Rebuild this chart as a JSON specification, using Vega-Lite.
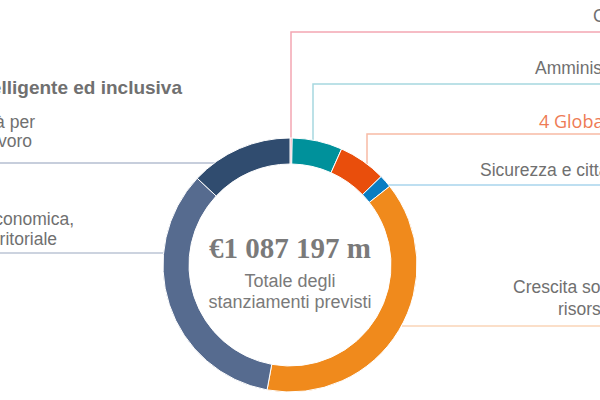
{
  "$schema": "https://vega.github.io/schema/vega-lite/v6.json",
  "width": 600,
  "height": 400,
  "autosize": {"type": "none"},
  "padding": 0,
  "background": "#ffffff",
  "config": {"view": {"stroke": null}},
  "datasets": {
    "stanziamenti": [
      {"voce": "Compensazioni", "importo": 3000, "n": 1},
      {"voce": "Amministrazione", "importo": 69584, "n": 2},
      {"voce": "Global Europe", "importo": 66262, "n": 3},
      {"voce": "Sicurezza e cittadinanza", "importo": 17725, "n": 4},
      {"voce": "Crescita sostenibile: risorse naturali", "importo": 420034, "n": 5},
      {"voce": "Coesione economica, sociale e territoriale", "importo": 371433, "n": 6},
      {"voce": "Competitività per la crescita e il lavoro", "importo": 142130, "n": 7}
    ],
    "linee": [
      {"id": "comp", "k": 1, "x": 291, "y": 141},
      {"id": "comp", "k": 2, "x": 291, "y": 32},
      {"id": "comp", "k": 3, "x": 600, "y": 32},
      {"id": "amm", "k": 1, "x": 313, "y": 142},
      {"id": "amm", "k": 2, "x": 313, "y": 84},
      {"id": "amm", "k": 3, "x": 600, "y": 84},
      {"id": "glob", "k": 1, "x": 367, "y": 166},
      {"id": "glob", "k": 2, "x": 367, "y": 134},
      {"id": "glob", "k": 3, "x": 600, "y": 134},
      {"id": "sic", "k": 1, "x": 386, "y": 185},
      {"id": "sic", "k": 2, "x": 600, "y": 185},
      {"id": "cres", "k": 1, "x": 402, "y": 326},
      {"id": "cres", "k": 2, "x": 600, "y": 326},
      {"id": "compet", "k": 1, "x": 0, "y": 163},
      {"id": "compet", "k": 2, "x": 216, "y": 163},
      {"id": "coes", "k": 1, "x": 0, "y": 253},
      {"id": "coes", "k": 2, "x": 166, "y": 253}
    ],
    "etichette_dx": [
      {"t": "Compensazioni", "x": 593, "y": 22},
      {"t": "Amministrazione", "x": 535, "y": 74},
      {"t": "Sicurezza e cittadinanza", "x": 480, "y": 176},
      {"t": "Crescita sostenibile:", "x": 513, "y": 293},
      {"t": "risorse naturali", "x": 558, "y": 315}
    ],
    "etichette_sx": [
      {"t": "1a Competitività per", "x": 35, "y": 128},
      {"t": "la crescita e il lavoro", "x": 32, "y": 147},
      {"t": "1b Coesione economica,", "x": 74, "y": 225},
      {"t": "sociale e territoriale", "x": 57, "y": 245}
    ],
    "titolo": [
      {"t": "1 Crescita intelligente ed inclusiva", "x": 182, "y": 94}
    ],
    "evidenza": [
      {"t": "4 Global Europe", "x": 539, "y": 128}
    ],
    "totale": [
      {"t": "€1 087 197 m", "x": 290, "y": 258}
    ],
    "sottotitolo": [
      {"t": "Totale degli", "x": 290, "y": 287},
      {"t": "stanziamenti previsti", "x": 290, "y": 308}
    ]
  },
  "layer": [
    {
      "data": {"name": "linee"},
      "mark": {"type": "line", "strokeWidth": 1.5, "clip": true},
      "encoding": {
        "x": {"field": "x", "type": "quantitative", "scale": {"domain": [0, 600]}, "axis": null},
        "y": {"field": "y", "type": "quantitative", "scale": {"domain": [0, 400], "reverse": true}, "axis": null},
        "detail": {"field": "id"},
        "order": {"field": "k"},
        "stroke": {
          "field": "id",
          "type": "nominal",
          "scale": {
            "domain": ["comp", "amm", "glob", "sic", "cres", "compet", "coes"],
            "range": ["#F3A6B3", "#A6D8DF", "#F8BBA5", "#A8D4EC", "#FAD5B7", "#B4BED0", "#BBC4D5"]
          },
          "legend": null
        }
      }
    },
    {
      "data": {"name": "stanziamenti"},
      "mark": {"type": "arc", "innerRadius": 101, "outerRadius": 127, "stroke": "#ffffff", "strokeWidth": 1},
      "encoding": {
        "x": {"datum": 290, "type": "quantitative", "scale": {"domain": [0, 600]}, "axis": null},
        "y": {"datum": 265, "type": "quantitative", "scale": {"domain": [0, 400], "reverse": true}, "axis": null},
        "theta": {"field": "importo", "type": "quantitative", "stack": true},
        "order": {"field": "n", "type": "quantitative"},
        "color": {
          "field": "voce",
          "type": "nominal",
          "scale": {
            "domain": ["Compensazioni", "Amministrazione", "Global Europe", "Sicurezza e cittadinanza", "Crescita sostenibile: risorse naturali", "Coesione economica, sociale e territoriale", "Competitività per la crescita e il lavoro"],
            "range": ["#E57F92", "#00919B", "#E94E0C", "#0A7DC2", "#F08A1C", "#566B8F", "#304C6F"]
          },
          "legend": null
        }
      }
    },
    {
      "data": {"name": "etichette_dx"},
      "mark": {"type": "text", "align": "left", "baseline": "alphabetic", "font": "Liberation Sans", "fontSize": 17.5, "color": "#707070", "clip": true},
      "encoding": {
        "x": {"field": "x", "type": "quantitative", "scale": {"domain": [0, 600]}, "axis": null},
        "y": {"field": "y", "type": "quantitative", "scale": {"domain": [0, 400], "reverse": true}, "axis": null},
        "text": {"field": "t"}
      }
    },
    {
      "data": {"name": "etichette_sx"},
      "mark": {"type": "text", "align": "right", "baseline": "alphabetic", "font": "Liberation Sans", "fontSize": 17.5, "color": "#707070", "clip": true},
      "encoding": {
        "x": {"field": "x", "type": "quantitative", "scale": {"domain": [0, 600]}, "axis": null},
        "y": {"field": "y", "type": "quantitative", "scale": {"domain": [0, 400], "reverse": true}, "axis": null},
        "text": {"field": "t"}
      }
    },
    {
      "data": {"name": "titolo"},
      "mark": {"type": "text", "align": "right", "baseline": "alphabetic", "font": "Liberation Sans", "fontSize": 19, "fontWeight": "bold", "color": "#707070", "clip": true},
      "encoding": {
        "x": {"field": "x", "type": "quantitative", "scale": {"domain": [0, 600]}, "axis": null},
        "y": {"field": "y", "type": "quantitative", "scale": {"domain": [0, 400], "reverse": true}, "axis": null},
        "text": {"field": "t"}
      }
    },
    {
      "data": {"name": "evidenza"},
      "mark": {"type": "text", "align": "left", "baseline": "alphabetic", "font": "Open Sans", "fontSize": 18, "color": "#EE7B55", "clip": true},
      "encoding": {
        "x": {"field": "x", "type": "quantitative", "scale": {"domain": [0, 600]}, "axis": null},
        "y": {"field": "y", "type": "quantitative", "scale": {"domain": [0, 400], "reverse": true}, "axis": null},
        "text": {"field": "t"}
      }
    },
    {
      "data": {"name": "totale"},
      "mark": {"type": "text", "align": "center", "baseline": "alphabetic", "font": "Liberation Serif", "fontSize": 29, "fontWeight": "bold", "color": "#7A7A7A"},
      "encoding": {
        "x": {"field": "x", "type": "quantitative", "scale": {"domain": [0, 600]}, "axis": null},
        "y": {"field": "y", "type": "quantitative", "scale": {"domain": [0, 400], "reverse": true}, "axis": null},
        "text": {"field": "t"}
      }
    },
    {
      "data": {"name": "sottotitolo"},
      "mark": {"type": "text", "align": "center", "baseline": "alphabetic", "font": "Liberation Sans", "fontSize": 18, "color": "#7A7A7A"},
      "encoding": {
        "x": {"field": "x", "type": "quantitative", "scale": {"domain": [0, 600]}, "axis": null},
        "y": {"field": "y", "type": "quantitative", "scale": {"domain": [0, 400], "reverse": true}, "axis": null},
        "text": {"field": "t"}
      }
    }
  ]
}
